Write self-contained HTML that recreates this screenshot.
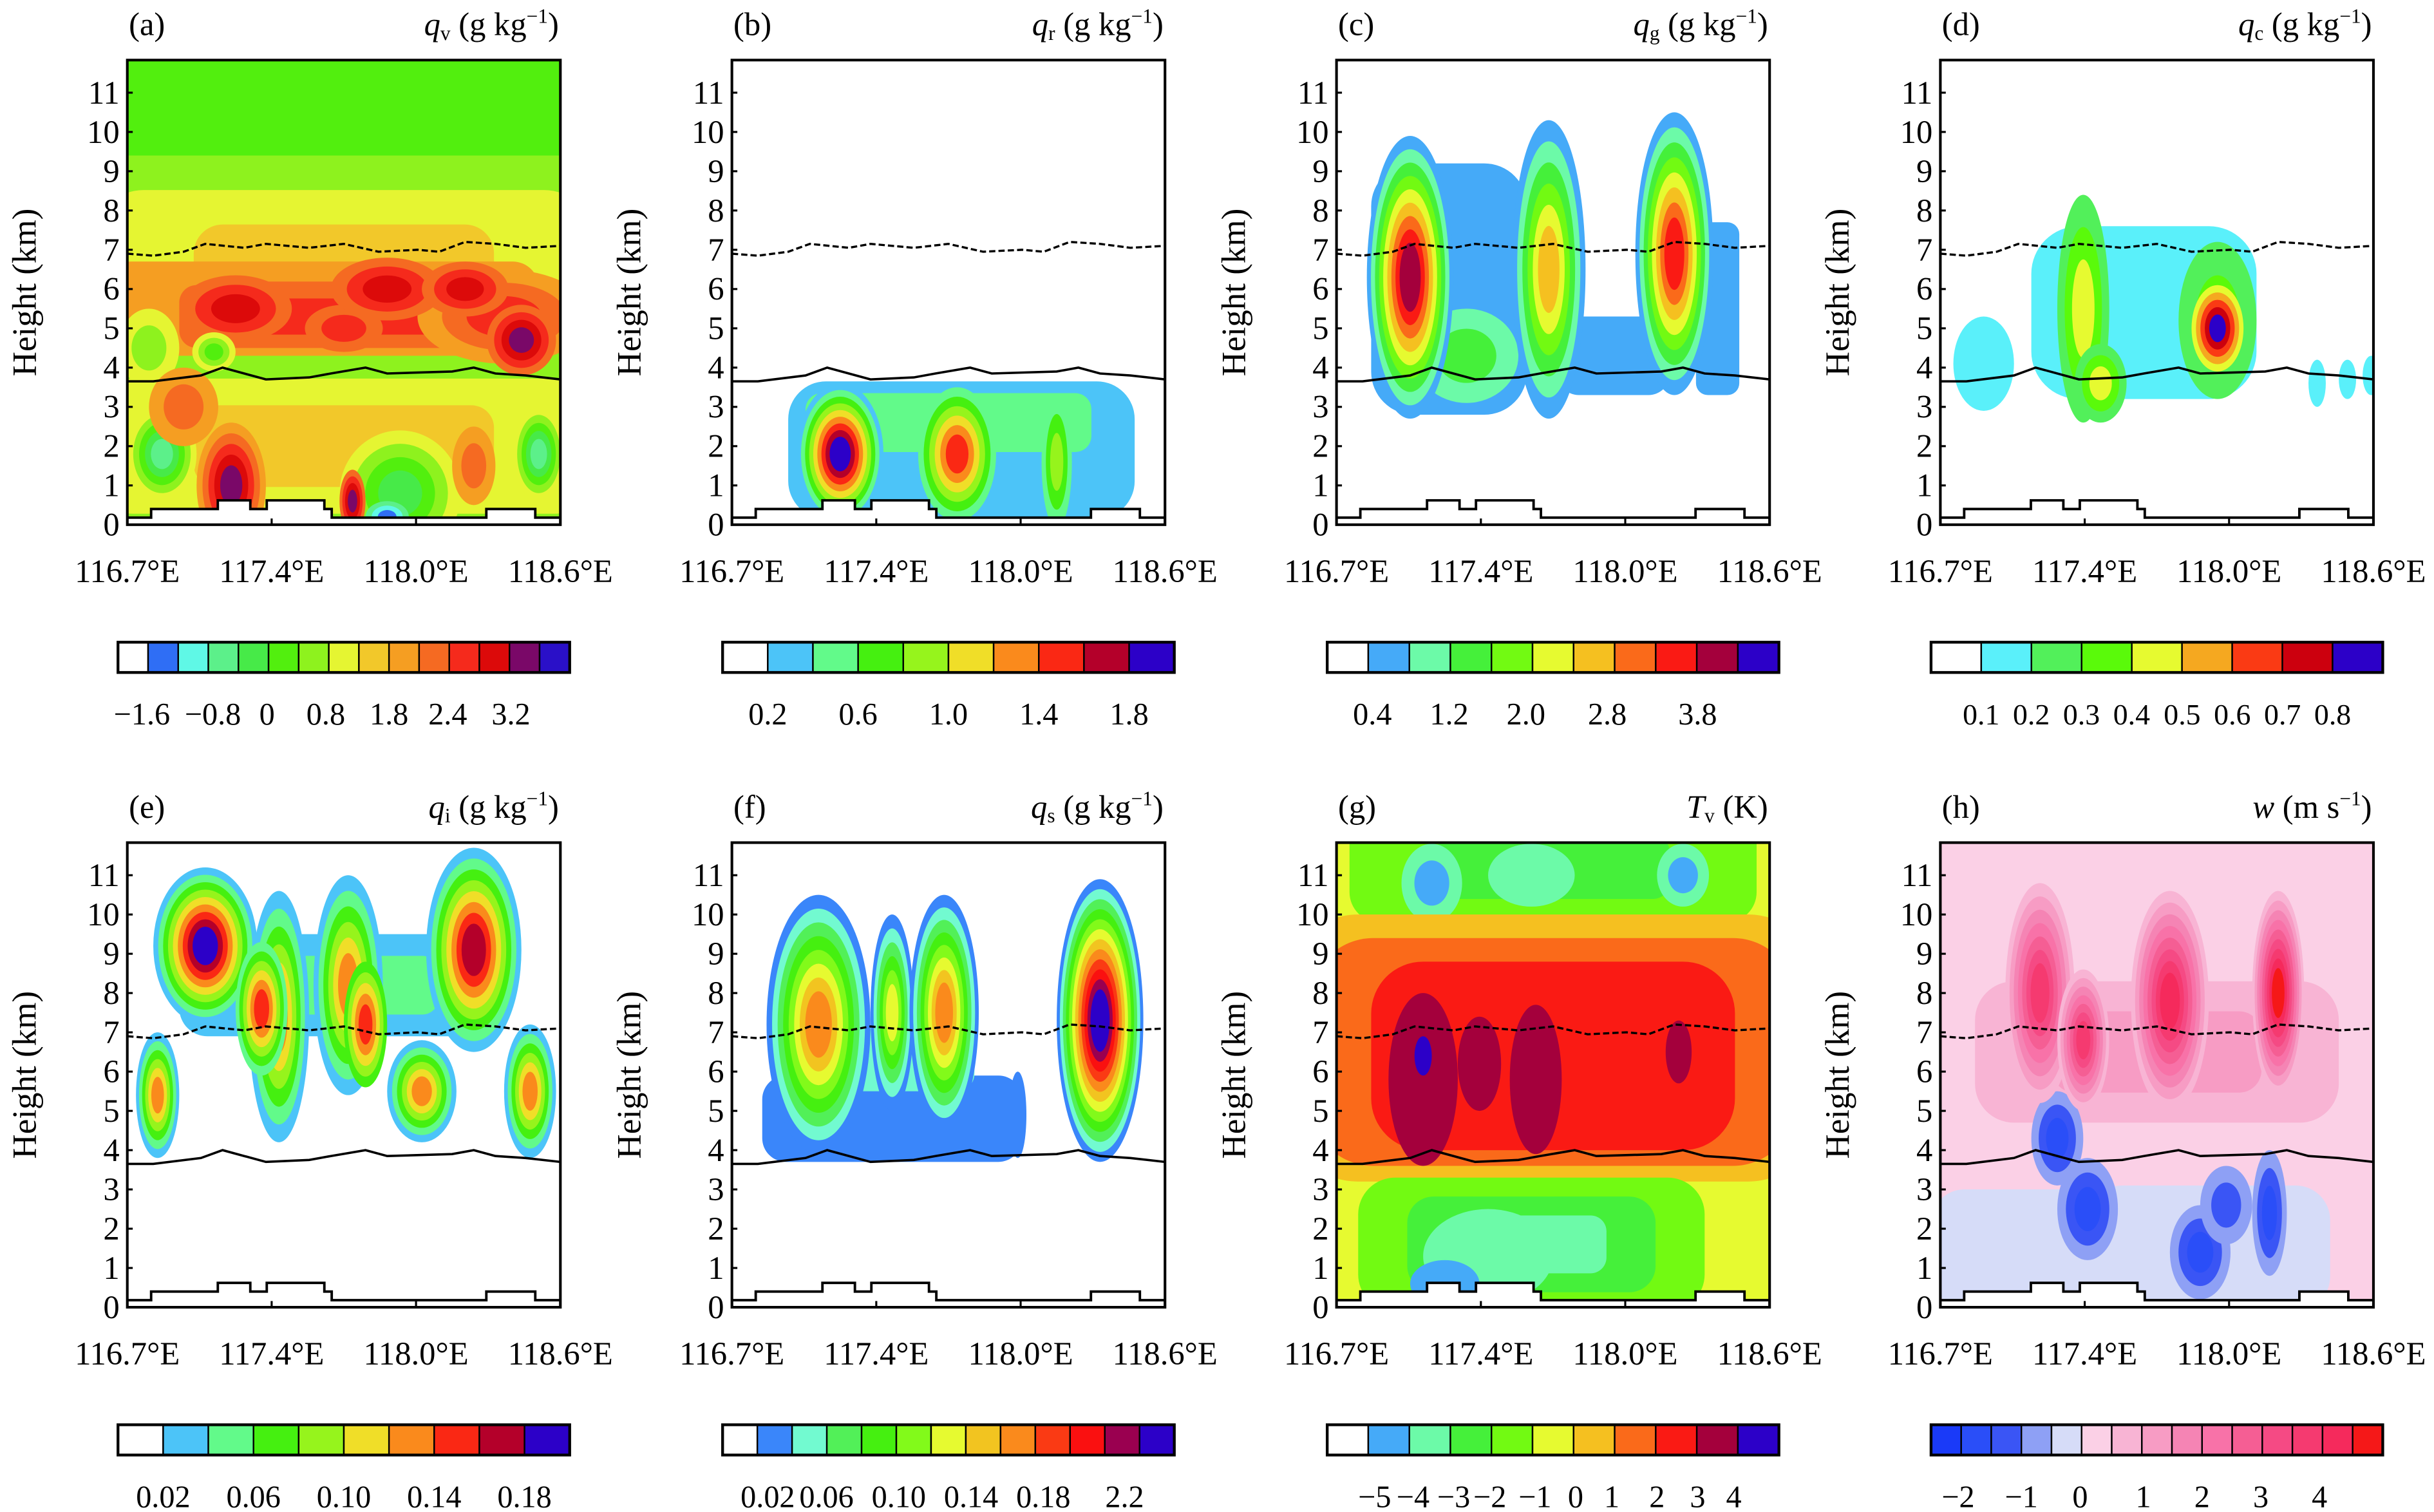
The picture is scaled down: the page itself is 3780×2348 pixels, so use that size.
<!DOCTYPE html>
<html><head><meta charset="utf-8"><style>
html,body{margin:0;padding:0;background:#fff;}
svg{display:block;}
text{font-family:"Liberation Serif",serif;fill:#000;}
</style></head>
<body>
<svg id="fig" xmlns="http://www.w3.org/2000/svg" width="3780" height="2348" viewBox="0 0 1568 974" font-family="Liberation Serif, serif"></svg>
<script>
// ---------- shared data ----------
const yTicks = [0,1,2,3,4,5,6,7,8,9,10,11];
const xTickLabels = ["116.7°E","117.4°E","118.0°E","118.6°E"];
const xTickFrac = [0, 1/3, 2/3, 1];
const terrainEdges = [0,0.055,0.209,0.284,0.322,0.455,0.472,0.829,0.942,1];
const terrainHeights = [0.18,0.4,0.62,0.4,0.62,0.4,0.18,0.4,0.18];
const meltX = [0,0.06,0.17,0.22,0.32,0.42,0.47,0.55,0.6,0.75,0.8,0.85,0.92,1];
const meltKm = [3.65,3.65,3.8,4.0,3.7,3.75,3.85,4.0,3.85,3.9,4.0,3.85,3.8,3.7];
const frzX = [0,0.06,0.13,0.18,0.27,0.32,0.42,0.5,0.58,0.67,0.72,0.78,0.85,0.92,1];
const frzKm = [6.9,6.85,6.95,7.15,7.05,7.15,7.05,7.15,6.95,7.0,6.95,7.2,7.15,7.05,7.1];

// ---------- palettes ----------
const palA = ["#ffffff","#2f6ef5","#5ff8e6","#5cf08a","#47ea48","#52ef0e","#8ef21e","#e5f532","#f2c82a","#f59e22","#f56a22","#f52a1c","#dc0a0a","#7a0868","#2a10c8"];
const palB = ["#ffffff","#4cc4f8","#62fa8a","#45f010","#96f41c","#f0de28","#fa8a1c","#fa2814","#b4002a","#2c00c8"];
const palC = ["#ffffff","#45aaf8","#6cfaa8","#45f03a","#72fa12","#e6fa30","#f5c020","#fa6a1a","#fa1a14","#a4003c","#2c00c8"];
const palD = ["#ffffff","#5af0fa","#52f05a","#5afa0a","#e6fa30","#f5a820","#fa3a14","#cc000e","#2c00c8"];
const palF = ["#ffffff","#3a86fa","#72fad0","#52f058","#45f010","#82fa1a","#e6fa30","#f2c420","#fa8a1c","#fa3a14","#fa1010","#9a0050","#2c00c8"];
const palH = ["#1a3af8","#2a4ef8","#3a55f5","#8ea0f5","#d6dcf8","#fbd0e6","#f8b4d4","#f79cc4","#f584b4","#f872a8","#f55e94","#f54a84","#f53a70","#f52a5c","#f51818"];

// ---------- colorbar labels ----------
const cbLabA = ["−1.6","−0.8","0","0.8","1.8","2.4","3.2"];
const cbPosA = [0.053,0.21,0.33,0.46,0.6,0.73,0.87];
const cbLabB = ["0.2","0.6","1.0","1.4","1.8"];
const cbPosB = [0.1,0.3,0.5,0.7,0.9];
const cbLabC = ["0.4","1.2","2.0","2.8","3.8"];
const cbPosC = [0.1,0.27,0.44,0.62,0.82];
const cbLabD = ["0.1","0.2","0.3","0.4","0.5","0.6","0.7","0.8"];
const cbPosD = [0.111,0.222,0.333,0.444,0.556,0.667,0.778,0.889];
const cbLabE = ["0.02","0.06","0.10","0.14","0.18"];
const cbPosE = [0.1,0.3,0.5,0.7,0.9];
const cbLabF = ["0.02","0.06","0.10","0.14","0.18","2.2"];
const cbPosF = [0.1,0.23,0.39,0.55,0.71,0.89];
const cbLabG = ["−5","−4","−3","−2","−1","0","1","2","3","4"];
const cbPosG = [0.105,0.19,0.28,0.36,0.46,0.55,0.63,0.73,0.82,0.9];
const cbLabH = ["−2","−1","0","1","2","3","4"];
const cbPosH = [0.06,0.2,0.33,0.47,0.6,0.73,0.86];

// ---------- field blobs: [lonFrac, km, halfWidthFrac, halfHeightKm, fromLevel, toLevel, shape] ----------
const blobsA = [
 [0.5,6.3,0.8,3.1,6,8,1],[0.5,2.0,0.8,2.4,6,8,1],[0.45,5.5,0.5,1.2,9,10,1],
 [0.52,5.3,0.4,0.8,10,11,1],
 [0.87,5.3,0.2,1.2,9,11,0],[0.25,5.5,0.13,0.85,10,12,0],[0.5,5.0,0.09,0.6,10,11,0],
 [0.6,6.0,0.13,0.8,10,12,0],[0.78,6.0,0.1,0.7,10,12,0],[0.91,4.7,0.08,0.9,10,13,0],
 [0.2,4.4,0.05,0.5,7,5,0],[0.08,1.8,0.08,1.2,7,3,0],[0.95,1.8,0.06,1.2,7,3,0],
 [0.63,0.8,0.14,1.6,7,4,0],[0.24,1.0,0.08,1.6,9,13,0],[0.52,0.6,0.03,0.8,10,13,0],
 [0.6,0.2,0.05,0.4,3,1,0],[0.05,4.5,0.07,1.0,7,6,0],[0.13,3.0,0.08,1.0,9,10,0],[0.8,1.5,0.05,1.0,9,10,0]
];
const blobsB = [
 [0.53,1.9,0.4,1.75,1,1,1],[0.5,2.6,0.33,0.75,2,2,1],
 [0.25,1.8,0.1,1.8,1,9,0],[0.52,1.8,0.09,1.7,2,7,0],[0.75,1.6,0.035,1.7,2,4,0]
];
const blobsC = [
 [0.26,6.0,0.18,3.2,1,1,1],[0.64,4.3,0.13,1.0,1,1,1],[0.88,5.5,0.05,2.2,1,1,1],
 [0.3,4.3,0.12,1.2,2,3,0],[0.17,6.3,0.1,3.6,1,9,0],[0.49,6.5,0.085,3.8,1,6,0],[0.78,6.9,0.09,3.6,1,8,0]
];
const blobsD = [
 [0.1,4.1,0.07,1.2,1,1,0],[0.47,5.4,0.26,2.2,1,1,1],[0.33,5.5,0.06,2.9,2,4,0],
 [0.37,3.6,0.06,1.0,2,4,0],[0.64,5.2,0.09,2.0,2,3,0],[0.64,5.0,0.06,1.1,4,8,0],
 [0.87,3.6,0.02,0.6,1,1,0],[0.94,3.7,0.02,0.5,1,1,0],[0.995,3.8,0.02,0.5,1,1,0]
];
const blobsE = [
 [0.5,8.2,0.38,1.3,1,2,1],[0.07,5.4,0.05,1.6,1,6,0],[0.18,9.2,0.12,2.0,1,9,0],
 [0.35,7.4,0.07,3.2,1,6,0],[0.31,7.6,0.06,1.7,2,7,0],[0.51,8.2,0.08,2.8,1,6,0],
 [0.55,7.2,0.05,1.6,3,7,0],[0.68,5.5,0.08,1.3,1,6,0],[0.8,9.1,0.11,2.6,1,8,0],[0.93,5.5,0.06,1.7,1,6,0]
];
const blobsF = [
 [0.37,4.8,0.3,1.1,1,1,1],[0.33,6.3,0.23,0.8,2,2,1],[0.2,7.2,0.12,3.3,1,8,0],
 [0.37,7.5,0.05,2.5,1,6,0],[0.49,7.5,0.08,3.0,1,8,0],[0.66,4.9,0.02,1.1,1,1,0],[0.85,7.3,0.1,3.6,1,12,0]
];
const blobsG = [
 [0.5,11.2,0.47,1.4,4,3,1],[0.22,10.8,0.07,1.0,2,1,0],[0.45,11.0,0.1,0.8,2,2,0],[0.8,11.0,0.06,0.8,2,1,0],
 [0.5,6.6,0.62,3.4,6,6,1],[0.5,6.5,0.56,2.9,7,7,1],[0.5,6.4,0.42,2.4,8,8,1],
 [0.2,5.8,0.08,2.2,9,9,0],[0.2,6.4,0.02,0.5,10,10,0],[0.46,5.8,0.06,1.9,9,9,0],
 [0.33,6.2,0.05,1.2,9,9,0],[0.79,6.5,0.03,0.8,9,9,0],
 [0.45,1.6,0.4,1.7,4,2,1],[0.35,1.3,0.15,1.2,2,2,0],[0.25,0.6,0.08,0.6,1,1,0]
];
const blobsH = [
 [0.2,1.5,0.22,1.5,4,4,1],[0.62,1.5,0.28,1.6,4,4,1],[0.5,6.5,0.42,1.8,6,7,1],
 [0.27,4.3,0.06,1.2,3,1,0],[0.34,2.5,0.07,1.3,3,1,0],[0.6,1.4,0.07,1.2,3,1,0],
 [0.66,2.6,0.06,1.0,3,2,0],[0.76,2.4,0.04,1.6,3,1,0],
 [0.23,8.0,0.08,2.8,6,12,0],[0.33,6.8,0.06,1.8,6,12,0],[0.53,7.8,0.09,2.8,6,13,0],[0.78,8.0,0.06,2.6,6,14,0]
];

// ---------- layout ----------
const colLeft = [82,471.5,861,1250];
const rowTop = [38.7,542.8];
const W = 279, H = 299.3, KM = 25.3;

const panels = [
 {id:"a",pal:palA,base:5,blobs:blobsA,lab:cbLabA,pos:cbPosA,sym:"q",sub:"v",unit:"(g kg",sup:"−1",end:")"},
 {id:"b",pal:palB,base:0,blobs:blobsB,lab:cbLabB,pos:cbPosB,sym:"q",sub:"r",unit:"(g kg",sup:"−1",end:")"},
 {id:"c",pal:palC,base:0,blobs:blobsC,lab:cbLabC,pos:cbPosC,sym:"q",sub:"g",unit:"(g kg",sup:"−1",end:")"},
 {id:"d",pal:palD,base:0,blobs:blobsD,lab:cbLabD,pos:cbPosD,sym:"q",sub:"c",unit:"(g kg",sup:"−1",end:")"},
 {id:"e",pal:palB,base:0,blobs:blobsE,lab:cbLabE,pos:cbPosE,sym:"q",sub:"i",unit:"(g kg",sup:"−1",end:")"},
 {id:"f",pal:palF,base:0,blobs:blobsF,lab:cbLabF,pos:cbPosF,sym:"q",sub:"s",unit:"(g kg",sup:"−1",end:")"},
 {id:"g",pal:palC,base:5,blobs:blobsG,lab:cbLabG,pos:cbPosG,sym:"T",sub:"v",unit:"(K",sup:"",end:")"},
 {id:"h",pal:palH,base:5,blobs:blobsH,lab:cbLabH,pos:cbPosH,sym:"w",sub:"",unit:"(m s",sup:"−1",end:")"}
];

const NS = "http://www.w3.org/2000/svg";
const svg = document.getElementById("fig");
function mk(tag, attrs, parent){
  const e = document.createElementNS(NS, tag);
  for (const k in attrs) e.setAttribute(k, attrs[k]);
  (parent||svg).appendChild(e);
  return e;
}
const defs = mk("defs",{});

panels.forEach((p, idx) => {
  const L = colLeft[idx % 4], T = rowTop[Math.floor(idx/4)], B = T + H, R = L + W;
  const sx = f => L + f*W;
  const sy = km => B - km*KM;
  const g = mk("g",{});
  
  

  const cp = mk("clipPath",{id:"clip"+p.id}, defs);
  mk("rect",{x:L,y:T,width:W,height:H}, cp);

  const field = mk("g",{"clip-path":"url(#clip"+p.id+")"}, g);
  
  
  const bg = mk("rect",{x:L,y:T,width:W,height:H,fill:p.pal[p.base]}, field);
  
  

  p.blobs.forEach((b, bi) => {
    const [cx, cy, rx, ry, from, to, shape] = b;
    const step = to >= from ? 1 : -1;
    const n = Math.abs(to - from) + 1;
    for (let i = 0; i < n; i++) {
      const lvl = from + i*step;
      const s = 1 - 0.85*i/n;
      const px = sx(cx), py = sy(cy), hw = rx*W*s, hh = ry*KM*s;
      let shp;
      if (shape === 1) {
        const r = Math.min(hw, hh)*0.55;
        shp = mk("rect",{x:px-hw,y:py-hh,width:2*hw,height:2*hh,rx:r,ry:r,fill:p.pal[lvl]}, field);
      } else {
        shp = mk("ellipse",{cx:px,cy:py,rx:hw,ry:hh,fill:p.pal[lvl]}, field);
      }
      
      
    }
  });

  // terrain
  let d = "M" + L + "," + (B+2);
  for (let i = 0; i < terrainHeights.length; i++) {
    d += " L" + sx(terrainEdges[i]) + "," + sy(terrainHeights[i]) + " L" + sx(terrainEdges[i+1]) + "," + sy(terrainHeights[i]);
  }
  d += " L" + R + "," + (B+2) + " Z";
  const ter = mk("path",{d:d,fill:"#fff",stroke:"#000","stroke-width":1.6,"stroke-linejoin":"miter"}, field);
  
  

  const melt = mk("polyline",{points:meltX.map((x,i)=>sx(x)+","+sy(meltKm[i])).join(" "),fill:"none",stroke:"#000","stroke-width":1.5}, field);
  
  
  const frz = mk("polyline",{points:frzX.map((x,i)=>sx(x)+","+sy(frzKm[i])).join(" "),fill:"none",stroke:"#000","stroke-width":1.4,"stroke-dasharray":"4,2"}, field);
  
  

  // box
  const box = mk("rect",{x:L,y:T,width:W,height:H,fill:"none",stroke:"#000","stroke-width":1.7}, g);
  
  

  // y ticks
  yTicks.forEach(v => {
    const tk = mk("line",{x1:L,x2:L+3.5,y1:sy(v),y2:sy(v),stroke:"#000","stroke-width":1.3}, g);
    
    
    const tl = mk("text",{x:L-5,y:sy(v)+7,"text-anchor":"end","font-size":21,"font-family":"Liberation Serif, serif"}, g);
    tl.textContent = v;
    
    
  });
  const yt = mk("text",{x:0,y:0,"text-anchor":"middle","font-size":22,"font-family":"Liberation Serif, serif",transform:"translate("+(L-59)+","+(T+H/2)+") rotate(-90)"}, g);
  yt.textContent = "Height (km)";
  
  

  // x ticks
  xTickFrac.forEach((f, i) => {
    if (i > 0 && i < 3) {
      const tk = mk("line",{x1:sx(f),x2:sx(f),y1:B,y2:B-4,stroke:"#000","stroke-width":1.3}, g);
      
      
    }
    const tl = mk("text",{x:sx(f),y:B+37,"text-anchor":"middle","font-size":21,"font-family":"Liberation Serif, serif"}, g);
    tl.textContent = xTickLabels[i];
    
    
  });

  // titles
  const tt = mk("text",{x:L+1,y:T-16,"font-size":21,"font-family":"Liberation Serif, serif"}, g);
  tt.textContent = "(" + p.id + ")";
  
  
  const vt = mk("text",{x:R-1,y:T-16,"text-anchor":"end","font-size":21,"font-family":"Liberation Serif, serif"}, g);
  
  
  const t1 = mk("tspan",{"font-style":"italic"}, vt); t1.textContent = p.sym;
  if (p.sub) { const t2 = mk("tspan",{"font-size":13,dy:3}, vt); t2.textContent = p.sub; }
  const t3 = mk("tspan",{dy:p.sub?-3:0}, vt); t3.textContent = " " + p.unit;
  if (p.sup) { const t4 = mk("tspan",{"font-size":13,dy:-8}, vt); t4.textContent = p.sup; }
  const t5 = mk("tspan",{dy:p.sup?8:0}, vt); t5.textContent = p.end;

  // colorbar
  const cx0 = L - 6, cw = 291, cy0 = T + 375, ch = 19.5;
  const n = p.pal.length, cellW = cw / n;
  const cb = mk("g",{}, g);
  
  
  p.pal.forEach((c, i) => {
    const cell = mk("rect",{x:cx0+i*cellW,y:cy0,width:cellW,height:ch,fill:c,stroke:"#000","stroke-width":1}, cb);
    
    
  });
  const cbf = mk("rect",{x:cx0,y:cy0,width:cw,height:ch,fill:"none",stroke:"#000","stroke-width":1.8}, cb);
  
  
  p.lab.forEach((t, i) => {
    const cl = mk("text",{x:cx0+p.pos[i]*cw,y:cy0+53,"text-anchor":"middle","font-size":p.id==="d"?19:20,"font-family":"Liberation Serif, serif"}, cb);
    cl.textContent = t;
    
    
  });
});
</script>
</body></html>
